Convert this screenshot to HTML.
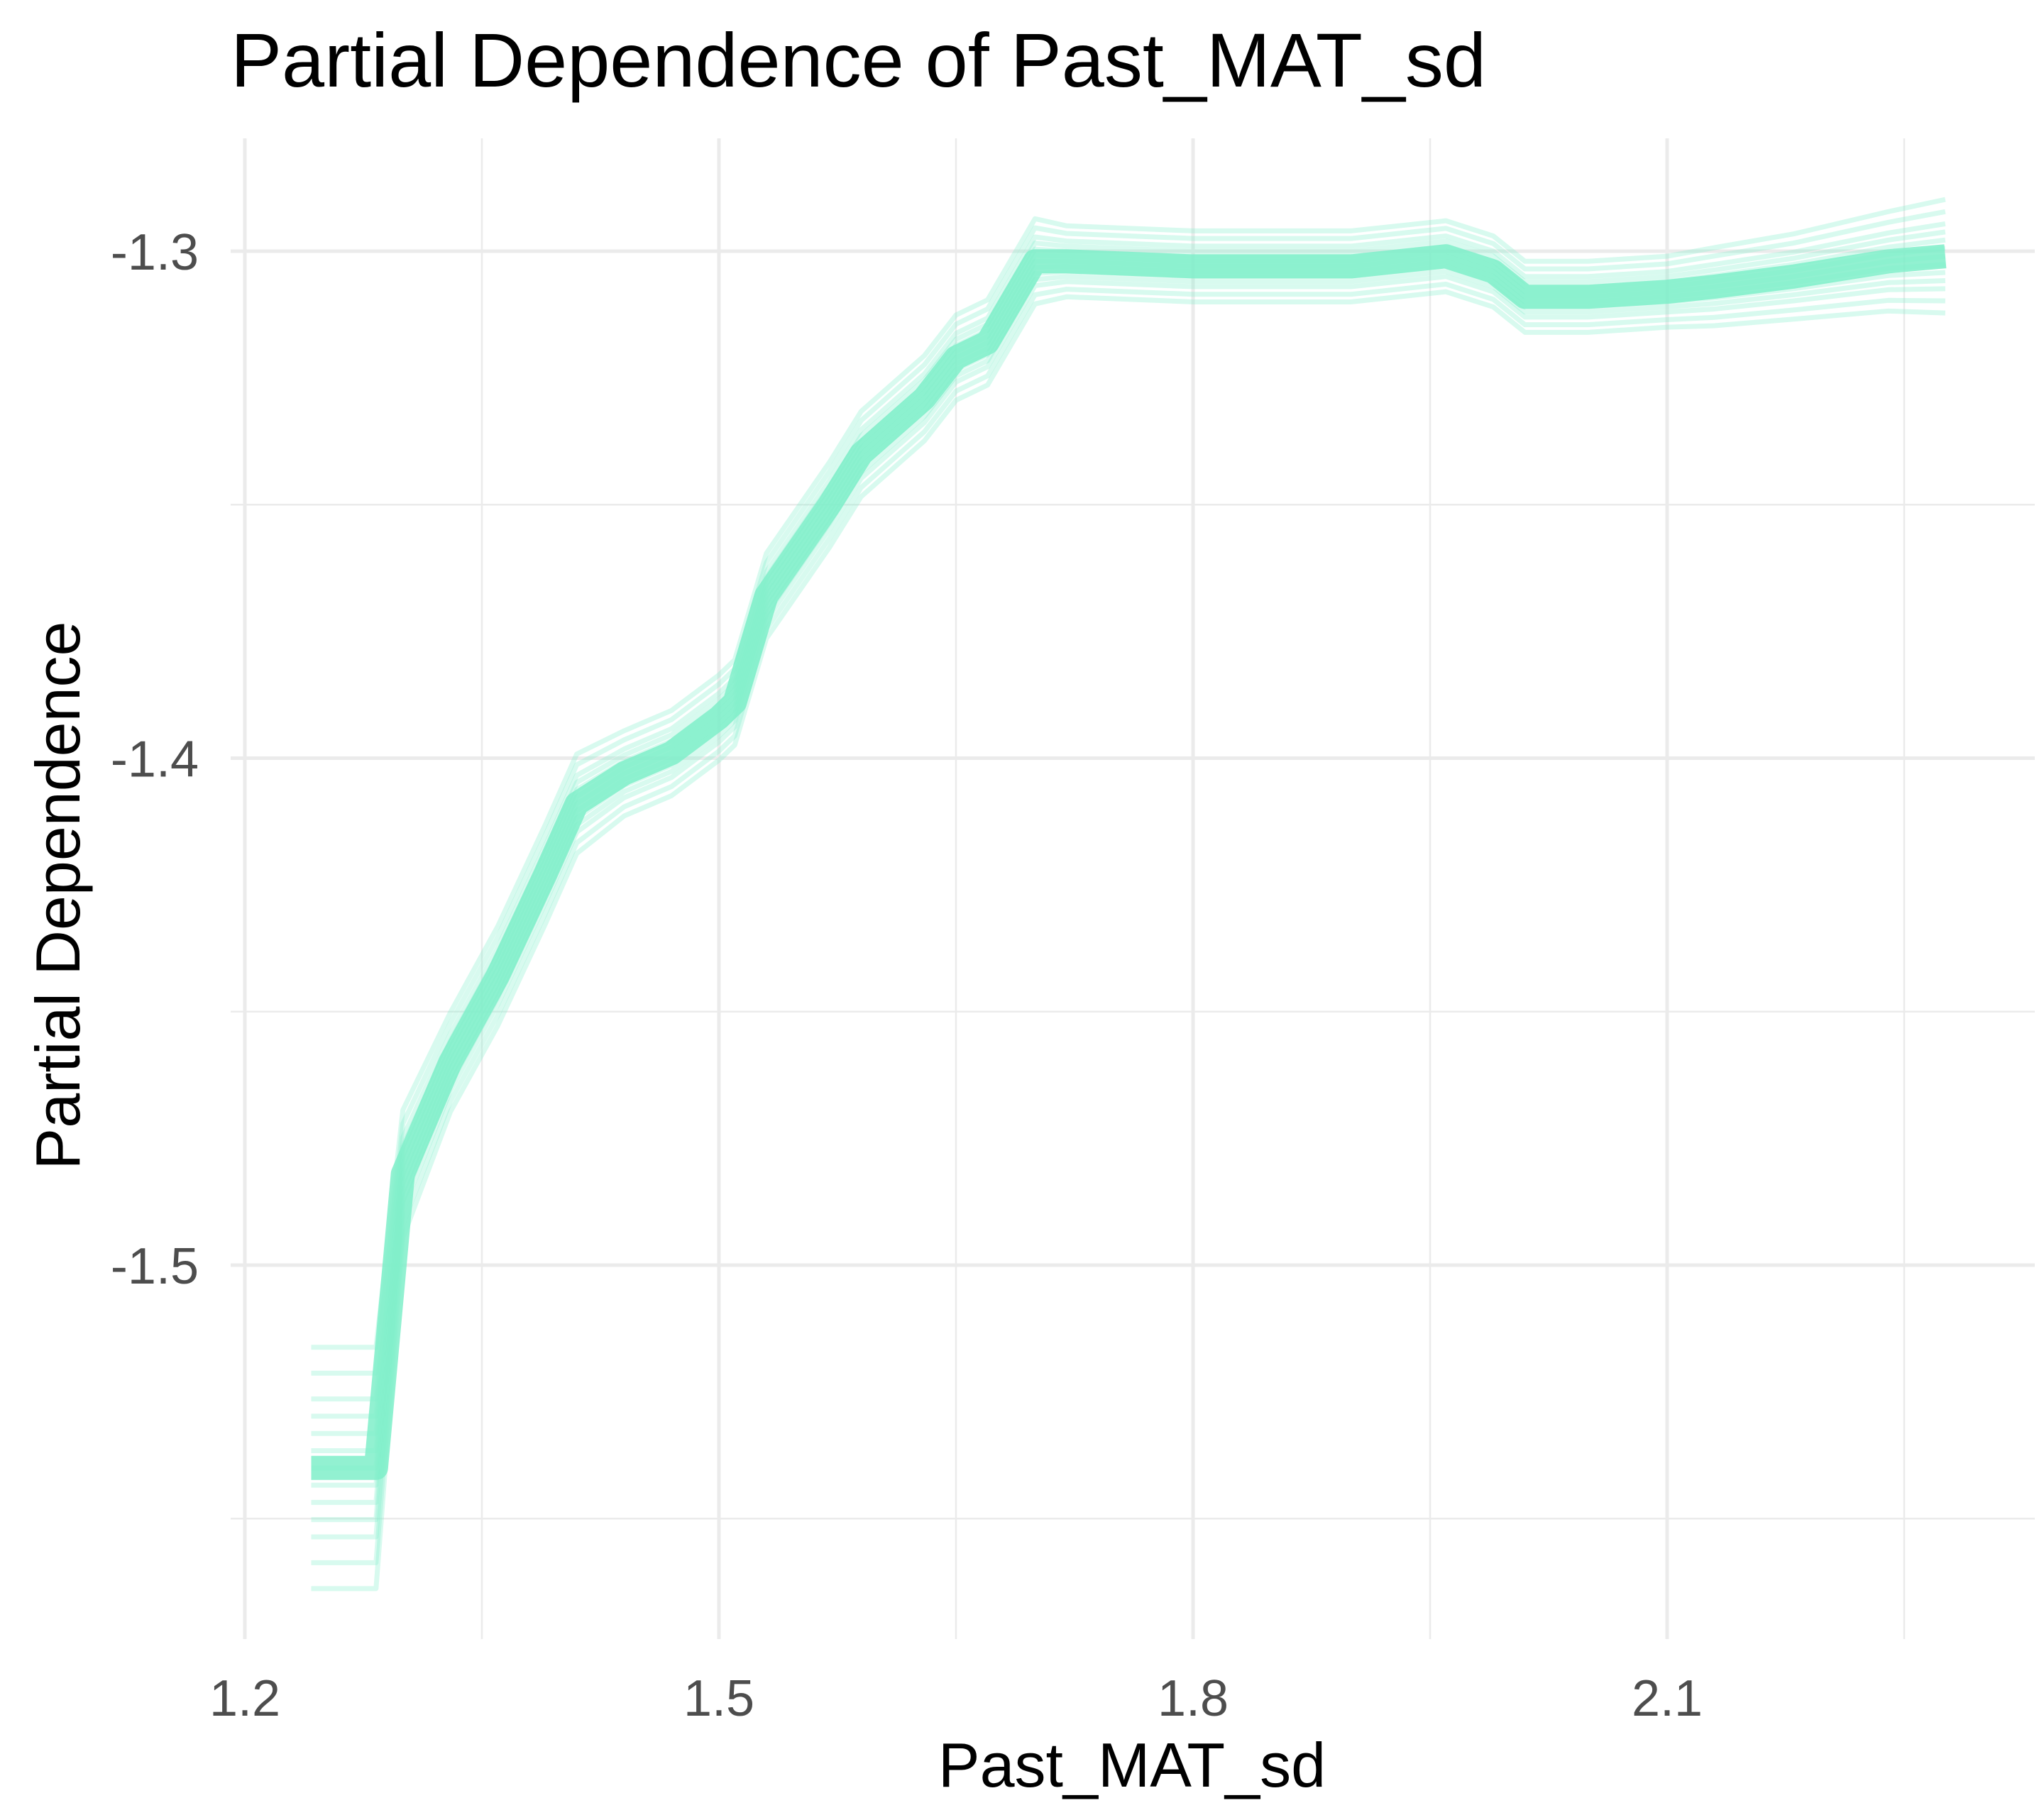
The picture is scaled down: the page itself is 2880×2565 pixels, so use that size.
<!DOCTYPE html>
<html><head><meta charset="utf-8"><style>
body{margin:0;background:#fff}
svg text{font-family:"Liberation Sans",Arial,sans-serif}
</style></head><body>
<svg id="chart" width="2880" height="2560" xmlns="http://www.w3.org/2000/svg">
<rect width="2880" height="2560" fill="#fff"/>
<g id="grid"></g>
<g id="lines"></g>
<g id="axes"></g>
<text x="325" y="122" font-size="108" fill="#000">Partial Dependence of Past_MAT_sd</text>
<text x="1595" y="2518" font-size="88" text-anchor="middle" fill="#000">Past_MAT_sd</text>
<text transform="translate(112,1262) rotate(-90)" font-size="88" text-anchor="middle" fill="#000">Partial Dependence</text>
</svg>
<script>
const xValues=[1.242,1.283,1.30,1.33,1.36,1.39,1.41,1.44,1.47,1.50,1.51,1.53,1.57,1.59,1.63,1.65,1.67,1.70,1.72,1.80,1.85,1.90,1.96,1.99,2.01,2.05,2.10,2.13,2.18,2.24,2.276];
const meanValues=[-1.540,-1.540,-1.482,-1.460,-1.443,-1.423,-1.409,-1.403,-1.399,-1.392,-1.389,-1.368,-1.350,-1.340,-1.329,-1.321,-1.318,-1.302,-1.302,-1.303,-1.303,-1.303,-1.301,-1.304,-1.309,-1.309,-1.308,-1.307,-1.305,-1.302,-1.301];
const spreadValues=[1.7,1.7,0.9,0.7,0.7,0.7,0.7,0.6,0.6,0.6,0.6,0.6,0.6,0.6,0.6,0.6,0.6,0.6,0.5,0.5,0.5,0.5,0.5,0.5,0.5,0.5,0.5,0.55,0.6,0.7,0.8];
const lineOffsets=[-0.014,-0.011,-0.008,-0.006,-0.004,-0.002,0,0.002,0.004,0.006,0.008,0.011,0.014];
const xTicks=[1.2,1.5,1.8,2.1];
const xMinor=[1.35,1.65,1.95,2.25];
const yTicks=[-1.3,-1.4,-1.5];
const yMinor=[-1.35,-1.45,-1.55];
const yTickLabels=["-1.3","-1.4","-1.5"];
const xTickLabels=["1.2","1.5","1.8","2.1"];

const L=325,R=2867,T=195,B=2310;
const sx=v=>345+(v-1.2)/0.3*668;
const sy=v=>354+(-1.3-v)/0.1*714.5;
const NS="http://www.w3.org/2000/svg";
function mk(tag,parent,attrs){const e=document.createElementNS(NS,tag);for(const k in attrs)e.setAttribute(k,attrs[k]);parent.appendChild(e);return e;}
const grid=document.getElementById('grid'),lines=document.getElementById('lines'),axes=document.getElementById('axes');
yMinor.forEach(v=>{const e=mk('line',grid,{x1:L,x2:R,y1:sy(v),y2:sy(v),stroke:'#EBEBEB','stroke-width':2.5});

});
xMinor.forEach(v=>{const e=mk('line',grid,{x1:sx(v),x2:sx(v),y1:T,y2:B,stroke:'#EBEBEB','stroke-width':2.5});

});
yTicks.forEach((v,i)=>{const e=mk('line',grid,{x1:L,x2:R,y1:sy(v),y2:sy(v),stroke:'#EBEBEB','stroke-width':5});


const t=mk('text',axes,{x:280,y:sy(v)+26,'font-size':72,'text-anchor':'end',fill:'#4D4D4D'});t.textContent=yTickLabels[i];

});
xTicks.forEach((v,i)=>{const e=mk('line',grid,{x1:sx(v),x2:sx(v),y1:T,y2:B,stroke:'#EBEBEB','stroke-width':5});


const t=mk('text',axes,{x:sx(v),y:2418,'font-size':72,'text-anchor':'middle',fill:'#4D4D4D'});t.textContent=xTickLabels[i];

});
lineOffsets.forEach((o,j)=>{
 const pts=xValues.map((x,i)=>sx(x)+','+sy(meanValues[i]+o*spreadValues[i])).join(' ');
 const p=mk('polyline',lines,{points:pts,fill:'none',stroke:'#7FEFC9','stroke-opacity':0.3,'stroke-width':7,'stroke-linejoin':'round'});
 
 
});
const m=mk('polyline',lines,{points:xValues.map((x,i)=>sx(x)+','+sy(meanValues[i])).join(' '),fill:'none',stroke:'#7FEFC9','stroke-opacity':0.85,'stroke-width':34,'stroke-linejoin':'round'});


</script>
</body></html>
